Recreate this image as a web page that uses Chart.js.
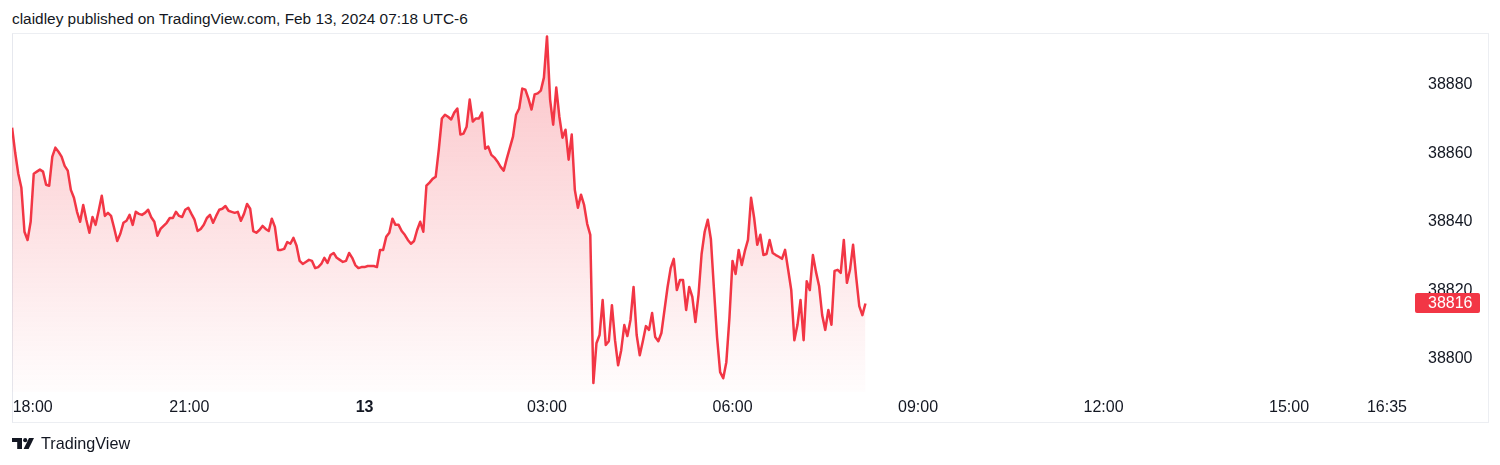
<!DOCTYPE html>
<html>
<head>
<meta charset="utf-8">
<title>claidley published on TradingView.com</title>
<script src="https://cdn.jsdelivr.net/npm/chart.js@4.4.1/dist/chart.umd.min.js"></script>
<style>
  html, body { margin: 0; padding: 0; background: #fff; }
  body { width: 1500px; height: 465px; position: relative; overflow: hidden;
         font-family: "Liberation Sans", Arial, sans-serif; color: #131722; }
  #title { position: absolute; left: 12px; top: 9px; font-size: 15.4px; line-height: 20px; }
  #frame { position: absolute; left: 12px; top: 33px; width: 1475px; height: 388px;
           border: 1px solid #eceef2; border-left-color: #e6e8ee; box-sizing: content-box; }
  #chart { position: absolute; left: 0; top: 0; }
  #brand { position: absolute; left: 12px; top: 434px; font-size: 16.2px; line-height: 18px;
           display: flex; align-items: center; }
  #brand svg { margin-right: 7px; }
</style>
</head>
<body>
<div id="title">claidley published on TradingView.com, Feb 13, 2024 07:18 UTC-6</div>
<div id="frame"></div>
<canvas id="chart" width="1500" height="465"></canvas>
<div id="brand">
  <svg width="22" height="11" viewBox="0 0 22 11">
    <path d="M0 0H10V11H5.2V4.1H0Z" fill="#131722"/>
    <circle cx="13.2" cy="2.2" r="2.1" fill="#131722"/>
    <path d="M17 0H22L16.6 11H11.6Z" fill="#131722"/>
  </svg>
  <span>TradingView</span>
</div>
<script>
(function () {
    "use strict";

    // time of first bar, minutes after 18:00 (Feb 12), and bar spacing
    var startMinute = 21;
    var stepMinutes = 3;

    // price per bar
    var prices = [
        38867.4, 38860.1, 38854.0, 38849.9, 38837.1, 38834.7, 38840.0, 38854.0, 38854.6, 38855.2,
        38854.6, 38850.8, 38850.5, 38859.0, 38861.6, 38860.4, 38859.0, 38856.3, 38854.9, 38849.3,
        38847.0, 38842.9, 38840.0, 38844.9, 38840.6, 38836.8, 38841.4, 38839.1, 38843.2, 38847.6,
        38841.7, 38842.6, 38841.7, 38838.2, 38834.4, 38836.5, 38839.7, 38840.3, 38842.0, 38839.1,
        38842.9, 38842.3, 38842.0, 38842.6, 38843.5, 38841.3, 38840.0, 38835.9, 38837.9, 38838.8,
        38839.7, 38841.1, 38841.1, 38842.9, 38841.7, 38841.4, 38843.5, 38844.1, 38842.3, 38840.6,
        38837.3, 38837.9, 38839.1, 38841.1, 38842.0, 38839.7, 38841.7, 38843.5, 38843.8, 38844.6,
        38843.2, 38842.9, 38842.6, 38842.9, 38840.3, 38842.3, 38845.2, 38843.8, 38837.3, 38836.8,
        38837.6, 38838.8, 38837.9, 38837.3, 38840.9, 38838.5, 38831.8, 38831.8, 38832.1, 38834.1,
        38833.6, 38835.3, 38833.0, 38828.6, 38827.7, 38828.3, 38828.9, 38828.6, 38826.5, 38826.8,
        38827.7, 38829.5, 38828.0, 38830.3, 38830.9, 38829.5, 38828.9, 38828.3, 38828.6, 38830.9,
        38829.5, 38827.4, 38826.5, 38826.8, 38826.8, 38827.1, 38827.1, 38827.1, 38826.8, 38831.8,
        38831.8, 38835.6, 38836.8, 38840.9, 38839.1, 38839.1, 38837.3, 38836.2, 38834.7, 38833.6,
        38834.4, 38837.6, 38840.0, 38837.1, 38850.5, 38851.4, 38852.5, 38853.1, 38861.0, 38870.1,
        38871.2, 38870.6, 38869.8, 38871.8, 38873.0, 38865.4, 38865.7, 38867.7, 38875.6, 38869.2,
        38870.1, 38870.1, 38871.8, 38861.3, 38861.9, 38859.5, 38858.7, 38857.5, 38856.0, 38854.9,
        38858.4, 38861.6, 38864.8, 38871.2, 38873.0, 38878.8, 38878.5, 38875.9, 38872.7, 38877.1,
        38877.4, 38878.2, 38882.0, 38894.0, 38875.6, 38868.3, 38879.1, 38870.6, 38864.5, 38866.8,
        38858.1, 38865.4, 38849.3, 38844.1, 38847.9, 38844.9, 38839.4, 38836.2, 38793.0, 38804.6,
        38807.0, 38817.2, 38804.1, 38805.2, 38815.7, 38805.5, 38798.2, 38802.6, 38809.9, 38806.7,
        38811.4, 38821.0, 38807.0, 38801.1, 38805.2, 38809.6, 38808.5, 38813.4, 38806.4, 38805.2,
        38807.6, 38814.3, 38821.0, 38826.5, 38829.2, 38820.1, 38823.0, 38823.0, 38814.3, 38821.0,
        38818.1, 38810.8, 38818.7, 38830.6, 38837.1, 38840.6, 38835.0, 38820.4, 38806.4, 38796.2,
        38794.4, 38799.1, 38811.9, 38828.6, 38824.8, 38831.8, 38827.4, 38831.5, 38834.7, 38847.0,
        38841.1, 38833.3, 38836.2, 38830.3, 38830.6, 38834.7, 38830.9, 38830.3, 38829.8, 38829.2,
        38831.8, 38826.0, 38820.1, 38805.5, 38809.9, 38817.2, 38805.5, 38822.7, 38820.1, 38830.3,
        38825.4, 38821.3, 38812.8, 38808.5, 38814.3, 38810.0, 38825.7, 38826.0, 38825.1, 38834.7,
        38822.2, 38826.0, 38833.3, 38823.9, 38815.4, 38812.8, 38816.2
    ];

    // price scale
    var priceTicks = [38800, 38820, 38840, 38860, 38880];
    var priceMin = 38790.4;
    var priceMax = 38895.0;

    // time scale (minutes after 18:00) and its labels
    var timeTicks = [41, 193, 363, 540, 720, 900, 1080, 1260, 1355];
    var timeLabels = ["18:00", "21:00", "13", "03:00", "06:00", "09:00", "12:00", "15:00", "16:35"];
    var timeMin = 20.9;
    var timeMax = 1379.3;

    var lineColor = "#F23645";
    var fontFamily = "'Liberation Sans', Arial, sans-serif";

    var points = prices.map(function (p, i) {
        return { x: startMinute + i * stepMinutes, y: p };
    });

    // last price tag on the price scale
    var lastPriceTag = {
        id: "lastPriceTag",
        afterDraw: function (chart) {
            var ctx = chart.ctx;
            var area = chart.chartArea;
            var last = prices[prices.length - 1];
            var y = chart.scales.y.getPixelForValue(last);
            ctx.save();
            ctx.fillStyle = lineColor;
            ctx.beginPath();
            ctx.roundRect(area.right + 3, Math.round(y) - 10, 65, 20, 2);
            ctx.fill();
            ctx.fillStyle = "#ffffff";
            ctx.font = "16px " + fontFamily;
            ctx.textBaseline = "middle";
            ctx.textAlign = "left";
            ctx.fillText(last.toFixed(0), area.right + 16, Math.round(y) + 1);
            ctx.restore();
        }
    };

    var ctx = document.getElementById("chart").getContext("2d");
    var priceChart = new Chart(ctx, {
        type: "line",
        data: {
            datasets: [{
                data: points,
                borderColor: lineColor,
                borderWidth: 2.5,
                borderJoinStyle: "round",
                pointRadius: 0,
                tension: 0,
                fill: "start",
                backgroundColor: function (c) {
                    var area = c.chart.chartArea;
                    if (!area) {
                        return "rgba(242,54,69,0.15)";
                    }
                    var g = c.chart.ctx.createLinearGradient(0, area.top, 0, area.bottom);
                    g.addColorStop(0, "rgba(242,54,69,0.30)");
                    g.addColorStop(1, "rgba(242,54,69,0.01)");
                    return g;
                }
            }]
        },
        options: {
            responsive: false,
            animation: false,
            devicePixelRatio: 1,
            layout: { padding: { left: 12, top: 33, right: 12, bottom: 43 } },
            plugins: {
                legend: { display: false },
                tooltip: { enabled: false }
            },
            scales: {
                x: {
                    type: "linear",
                    min: timeMin,
                    max: timeMax,
                    grid: { display: false, drawTicks: false },
                    border: { display: false },
                    afterBuildTicks: function (scale) {
                        scale.ticks = timeTicks.map(function (v) { return { value: v }; });
                    },
                    afterFit: function (scale) { scale.height = 30; },
                    ticks: {
                        autoSkip: false,
                        maxRotation: 0,
                        padding: 6,
                        color: "#131722",
                        font: function (c) {
                            var bold = c.tick && c.index === 2;
                            return { family: fontFamily, size: 16, weight: bold ? "bold" : "normal" };
                        },
                        callback: function (value, index) { return timeLabels[index]; }
                    }
                },
                y: {
                    position: "right",
                    min: priceMin,
                    max: priceMax,
                    grid: { display: false, drawTicks: false },
                    border: { display: false },
                    afterBuildTicks: function (scale) {
                        scale.ticks = priceTicks.map(function (v) { return { value: v }; });
                    },
                    afterFit: function (scale) { scale.width = 76; },
                    ticks: {
                        padding: 16,
                        color: "#131722",
                        font: { family: fontFamily, size: 16 },
                        callback: function (value) { return String(value); }
                    }
                }
            }
        },
        plugins: [lastPriceTag]
    });

})();
</script>
</body>
</html>
